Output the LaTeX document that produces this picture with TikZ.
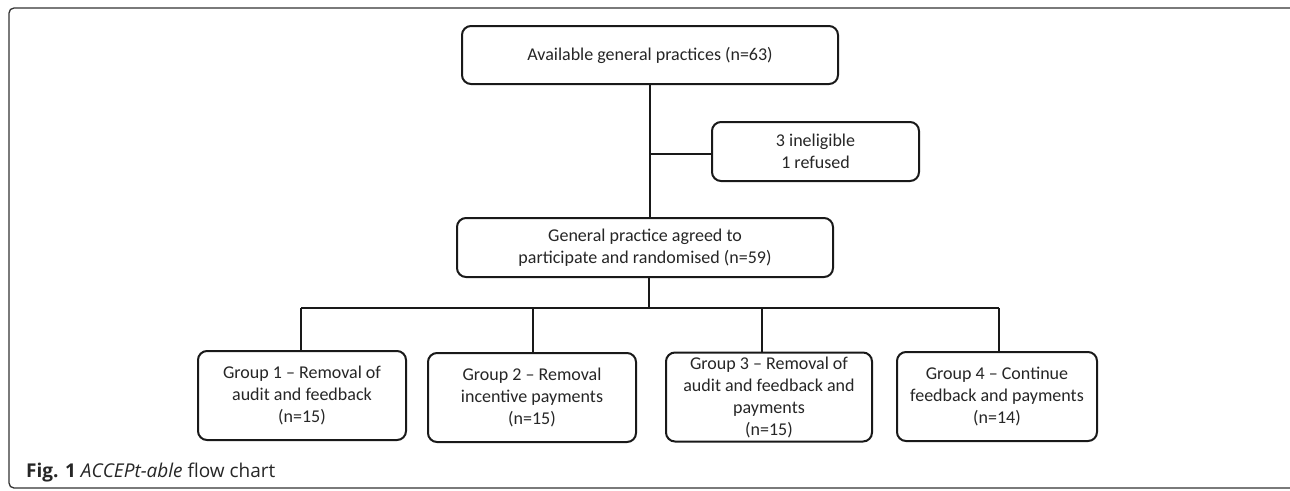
\documentclass[tikz,border=0pt]{standalone}
\usepackage{fontspec}
\setmainfont{Carlito}
\newfontfamily\capfont{Open Sans}
\begin{document}
\begin{tikzpicture}[x=1pt,y=-1pt,
  box/.style={draw=black!90, line width=2pt, rounded corners=9pt, align=center,
    inner sep=0pt, font=\fontsize{18}{22}\selectfont, text=black!85},
  conn/.style={draw=black!90, line width=2pt}]
\useasboundingbox (0,0) rectangle (1290,490);
\fill[white] (0,0) rectangle (1290,490);
% outer frame
\draw[black!80, line width=1.3pt, rounded corners=5pt] (9,8) rectangle (1340,488);

\node[box, minimum width=376pt, minimum height=58pt] (top) at (650,55) {Available general practices (n=63)};
\node[box, minimum width=207pt, minimum height=59pt] (side) at (815.5,151.5) {3 ineligible\\1 refused};
\node[box, minimum width=376pt, minimum height=59pt] (mid) at (645,247.5) {General practice agreed to\\participate and randomised (n=59)};
\node[box, minimum width=208pt, minimum height=89pt] (g1) at (302,395.5) {Group 1 -- Removal of\\audit and feedback\\(n=15)};
\node[box, minimum width=208pt, minimum height=89pt] (g2) at (532,397.5) {Group 2 -- Removal\\incentive payments\\(n=15)};
\node[box, minimum width=206pt, minimum height=89pt] (g3) at (769,397) {Group 3 -- Removal of\\audit and feedback and\\payments\\(n=15)};
\node[box, minimum width=200pt, minimum height=89pt] (g4) at (997,396.5) {Group 4 -- Continue\\feedback and payments\\(n=14)};

\coordinate (br) at (650,154);
\coordinate (hb) at (649,308);
\coordinate (d1) at (301,308);
\coordinate (d2) at (533,308);
\coordinate (d3) at (762,308);
\coordinate (d4) at (999,308);

\draw[conn] (650,84) -- (650,218);
\draw[conn] (br) -- (br -| side.west);
\draw[conn] (mid.south -| hb) -- (hb);
\draw[conn] (d1) -- (d4);
\draw[conn] (d1) -- (d1 |- g1.north);
\draw[conn] (d2) -- (d2 |- g2.north);
\draw[conn] (d3) -- (d3 |- g3.north);
\draw[conn] (d4) -- (d4 |- g4.north);

\node[anchor=base west, inner sep=0pt, text=black!85] (cap) at (26,477)
  {\capfont\fontsize{19}{22}\selectfont\textbf{Fig. 1} \textit{ACCEPt-able} flow chart};
\end{tikzpicture}
\end{document}
